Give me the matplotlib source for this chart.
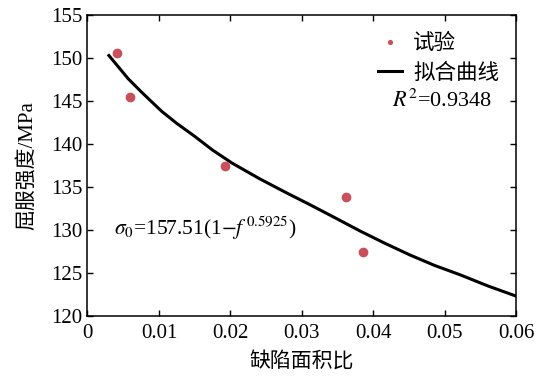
import matplotlib
matplotlib.use("Agg")
import matplotlib.pyplot as plt

plt.rcParams['font.family'] = ['Liberation Serif', 'Noto Sans CJK SC']
plt.rcParams['mathtext.fontset'] = 'stix'

# measured points
test_x = [0.0041, 0.0060, 0.0193, 0.0361, 0.0385]
test_y = [150.6, 145.5, 137.4, 133.8, 127.4]

# fitted curve
fit_x = [0.0030, 0.0045, 0.0057, 0.0075, 0.0090, 0.0104, 0.0125, 0.0150,
         0.0175, 0.0202, 0.0240, 0.0279, 0.0310, 0.0340, 0.0381, 0.0415,
         0.0451, 0.0485, 0.0521, 0.0560, 0.0600]
fit_y = [150.3, 148.8, 147.6, 146.1, 144.9, 143.8, 142.4, 140.9,
         139.3, 137.8, 136.0, 134.3, 133.0, 131.7, 129.9, 128.5,
         127.1, 125.9, 124.8, 123.5, 122.3]

xticks = [0, 0.01, 0.02, 0.03, 0.04, 0.05, 0.06]
xticklabels = ['0', '0.01', '0.02', '0.03', '0.04', '0.05', '0.06']
yticks = [120, 125, 130, 135, 140, 145, 150, 155]

fig = plt.figure(figsize=(5.5, 3.78), dpi=100)
ax = fig.add_axes([0.159, 0.164, 0.78, 0.796])

ax.plot(test_x, test_y, 'o', color='#c9505b', markersize=6, label='试验', zorder=3)
ax.plot(fit_x, fit_y, '-', color='black', linewidth=2.2, label='拟合曲线',
        solid_joinstyle='round')

ax.set_xlim(0, 0.06)
ax.set_ylim(120, 155)
ax.set_xticks(xticks)
ax.set_xticklabels(xticklabels)
ax.set_yticks(yticks)
ax.tick_params(direction='in', length=4, width=1, labelsize=15,
               top=True, right=True)
ax.tick_params(axis='x', pad=6)
for s in ax.spines.values():
    s.set_linewidth(1.1)

ax.set_xlabel('缺陷面积比', fontsize=15, labelpad=6)
ax.set_ylabel('屈服强度/MPa', fontsize=15, labelpad=10)

leg = ax.legend(loc='upper right', bbox_to_anchor=(1.0, 0.995), frameon=False,
                fontsize=15.5, markerscale=0.45, handlelength=1.15,
                handletextpad=0.5, labelspacing=0.45, borderaxespad=0.4)
ax.text(0.71, 0.714, r'$R^2$=0.9348', transform=ax.transAxes, fontsize=16,
        ha='left', va='center')
ax.text(0.063, 0.292, r'$\sigma_0$=157.51(1$-$$f^{\,0.5925}$)', transform=ax.transAxes,
        fontsize=15.5, ha='left', va='center')

fig.savefig('out.png', dpi=100)
